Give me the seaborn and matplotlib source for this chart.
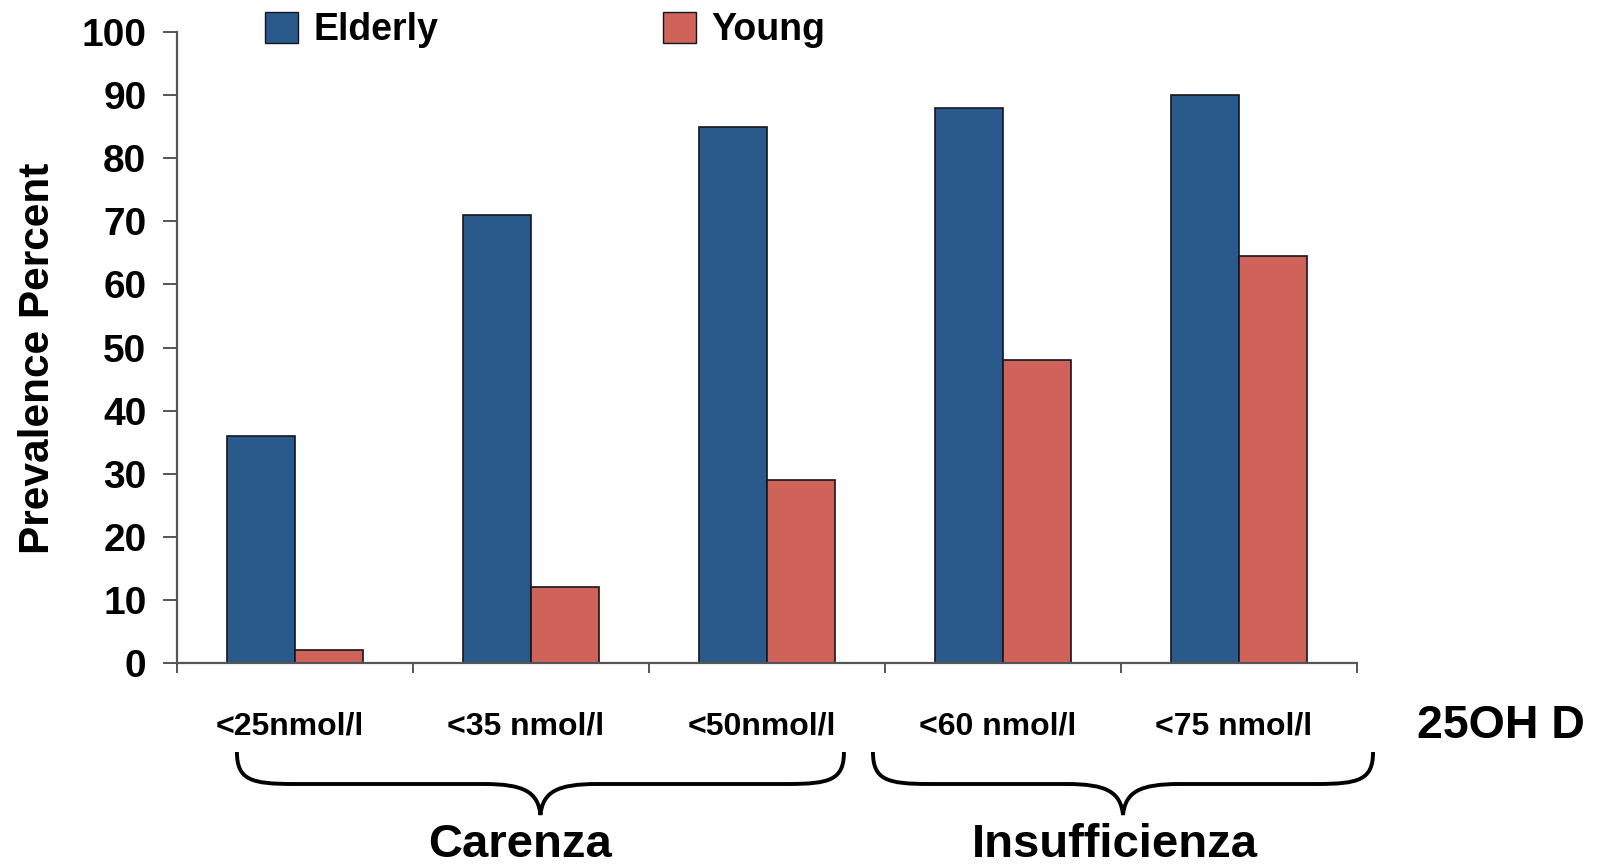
import numpy as np
import pandas as pd
import matplotlib
matplotlib.use("Agg")
import matplotlib.pyplot as plt
import seaborn as sns
from matplotlib.patches import Patch, PathPatch
from matplotlib.path import Path
from matplotlib import font_manager, transforms

# --- data -----------------------------------------------------------------
categories = ["<25nmol/l", "<35 nmol/l", "<50nmol/l", "<60 nmol/l", "<75 nmol/l"]
elderly = [36, 71, 85, 88, 90]
young = [2, 12, 29, 48, 64.5]
groups = ["Elderly", "Young"]
group_colors = ["#2A5A8C", "#CF635A"]
y_ticks = [0, 10, 20, 30, 40, 50, 60, 70, 80, 90, 100]
brace_groups = ["Carenza", "Insufficienza"]
x_title = "25OH D"
y_title = "Prevalence Percent"

df = pd.DataFrame({
    "range": categories * 2,
    "group": [groups[0]] * len(categories) + [groups[1]] * len(categories),
    "value": elderly + young,
})

# --- fonts ----------------------------------------------------------------
sns.set_theme(style="white")
plt.rcParams["font.family"] = ["Liberation Sans", "DejaVu Sans"]
plt.rcParams["text.color"] = "black"
plt.rcParams["axes.labelcolor"] = "black"
plt.rcParams["xtick.labelcolor"] = "black"
plt.rcParams["ytick.labelcolor"] = "black"
names = {f.name for f in font_manager.fontManager.ttflist}
if "Liberation Sans Narrow" in names:
    tick_family = ["Liberation Sans Narrow", "Liberation Sans"]
    tick_size = 26
else:
    tick_family = ["Liberation Sans", "DejaVu Sans"]
    tick_size = 23

W, H = 1604, 865
fig = plt.figure(figsize=(W / 100, H / 100), dpi=100)
ax = fig.add_axes([177 / W, 1 - 663 / H, 1180 / W, 631 / H])

sns.barplot(
    data=df, x="range", y="value", hue="group", order=categories,
    hue_order=groups, palette=group_colors, width=0.577, gap=0,
    edgecolor="#15151f", linewidth=1.2, saturation=1, legend=False, ax=ax,
)

ax.set_xlim(-0.5, len(categories) - 0.5)
ax.set_ylim(0, 100)
ax.set_yticks(y_ticks)
ax.set_yticklabels([str(t) for t in y_ticks], fontsize=28, fontweight="bold")
ax.tick_params(axis="y", direction="out", length=10, width=1.4,
               color="#555555", pad=12, left=True)

# category labels centred, ticks at group boundaries
ax.set_xticks(np.arange(len(categories)))
ax.set_xticklabels(categories, fontsize=tick_size, fontweight="bold",
                   family=tick_family)
ax.tick_params(axis="x", which="major", length=0, pad=35)
shift = transforms.ScaledTranslation(-5 / 100, 0, fig.dpi_scale_trans)
for lbl in ax.get_xticklabels():
    lbl.set_transform(lbl.get_transform() + shift)
ax.set_xticks(np.arange(len(categories) + 1) - 0.5, minor=True)
ax.tick_params(axis="x", which="minor", direction="out", length=7,
               width=1.4, color="#555555", bottom=True)

for side in ("top", "right"):
    ax.spines[side].set_visible(False)
for side in ("left", "bottom"):
    ax.spines[side].set_color("#555555")
    ax.spines[side].set_linewidth(1.6)

ax.set_xlabel("")
ax.set_ylabel(y_title, fontsize=30.5, fontweight="bold")
ax.yaxis.set_label_coords(-0.101, 0.483)

# legend
handles = [Patch(facecolor=c, edgecolor="#15151f", linewidth=1.0, label=g)
           for g, c in zip(groups, group_colors)]
fig.legend(handles=handles, loc="upper left",
           bbox_to_anchor=(265 / W, 1 - 12 / H), ncol=2, frameon=False,
           prop={"family": "Liberation Sans", "weight": "bold", "size": 27},
           handlelength=0.88, handleheight=0.88, handletextpad=0.4,
           columnspacing=6.0, borderpad=0, borderaxespad=0)

# x-axis title at the right
fig.text(1417 / W, 1 - 726 / H, x_title, fontsize=33.5, fontweight="bold",
         ha="left", va="center")

# curly braces grouping the ranges
blend = transforms.blended_transform_factory(ax.transData, fig.transFigure)


def brace(x0, x1, y_top, y_mid, y_tip, r=0.24):
    xc = (x0 + x1) / 2
    ft = lambda p: 1 - p / H
    verts = [
        (x0, ft(y_top)),
        (x0, ft(y_mid - 4)), (x0 + 0.06, ft(y_mid)), (x0 + r, ft(y_mid)),
        (xc - r, ft(y_mid)),
        (xc - 0.07, ft(y_mid)), (xc - 0.01, ft(y_mid + 8)), (xc, ft(y_tip)),
        (xc + 0.01, ft(y_mid + 8)), (xc + 0.07, ft(y_mid)), (xc + r, ft(y_mid)),
        (x1 - r, ft(y_mid)),
        (x1 - 0.06, ft(y_mid)), (x1, ft(y_mid - 4)), (x1, ft(y_top)),
    ]
    codes = [Path.MOVETO,
             Path.CURVE4, Path.CURVE4, Path.CURVE4,
             Path.LINETO,
             Path.CURVE4, Path.CURVE4, Path.CURVE4,
             Path.CURVE4, Path.CURVE4, Path.CURVE4,
             Path.LINETO,
             Path.CURVE4, Path.CURVE4, Path.CURVE4]
    patch = PathPatch(Path(verts, codes), transform=blend, facecolor="none",
                      edgecolor="black", linewidth=2.8, clip_on=False)
    fig.add_artist(patch)


spans = [(-0.246, 2.326), (2.449, 4.568)]
name_x = [0.953, 3.475]
for (x0, x1), name, nx in zip(spans, brace_groups, name_x):
    brace(x0, x1, 752, 784, 815)
    fig.text(nx, 1 - 845 / H, name, transform=blend,
             fontsize=34, fontweight="bold", ha="center", va="center")

fig.savefig("out.png", dpi=100, facecolor="white")
